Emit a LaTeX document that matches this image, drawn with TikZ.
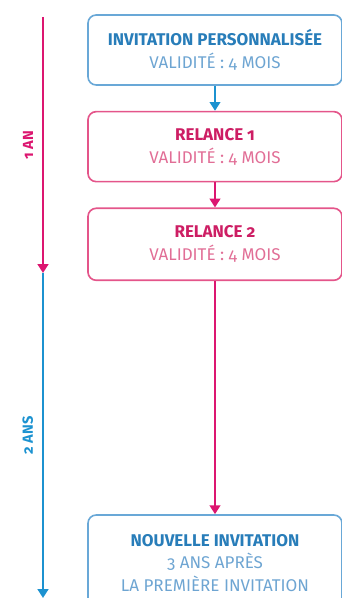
\documentclass[tikz,border=0pt]{standalone}
\usepackage{fontspec}
\setmainfont{Fira Sans}[Numbers=OldStyle]
\usepackage{tikz}
\usetikzlibrary{arrows.meta, positioning}
\definecolor{invblue}{RGB}{28,146,208}
\definecolor{invblueframe}{RGB}{105,168,215}
\definecolor{invbluetext}{RGB}{40,125,185}
\definecolor{invbluelight}{RGB}{110,165,210}
\definecolor{relmagenta}{RGB}{220,22,112}
\definecolor{relmagentaframe}{RGB}{228,85,138}
\definecolor{relmagentatext}{RGB}{205,30,100}
\definecolor{relmagentalight}{RGB}{225,110,150}

\begin{document}
\begin{tikzpicture}[
  x=0.03cm, y=-0.03cm,
  sbox/.style={rectangle, rounded corners=7pt, draw, line width=1.4pt,
               minimum width=7.62cm, minimum height=2.1cm, inner sep=1pt,
               font=\fontsize{14.5}{19.5}\selectfont, align=center},
  tlabel/.style={left=4pt, rotate=90, anchor=south,
                 font=\fontsize{12.5}{14}\selectfont\bfseries},
  arr/.style={-{Triangle[width=9pt, length=7.5pt]}, line width=2pt}
]
\useasboundingbox (0,0) rectangle (342,598);

%% ── Boxes ───────────────────────────────────────────────────────────────
\node[sbox, draw=invblueframe, text=invbluelight] (invit) at (215, 50)
  {\textcolor{invbluetext}{\bfseries INVITATION PERSONNALISÉE}\\VALIDITÉ : 4 MOIS};
\node[sbox, draw=relmagentaframe, text=relmagentalight, below=0.75cm of invit] (rel1)
  {\textcolor{relmagentatext}{\bfseries RELANCE 1}\\VALIDITÉ : 4 MOIS};
\node[sbox, draw=relmagentaframe, text=relmagentalight, minimum height=2.16cm,
      below=0.75cm of rel1] (rel2)
  {\textcolor{relmagentatext}{\bfseries RELANCE 2}\\VALIDITÉ : 4 MOIS};
\node[sbox, draw=invblueframe, text=invbluelight, minimum height=2.88cm] (newinv) at (215, 563)
  {\textcolor{invbluetext}{\bfseries NOUVELLE INVITATION}\\3 ANS APRÈS\\LA PREMIÈRE INVITATION};

%% ── Arrows between boxes ────────────────────────────────────────────────
\draw[arr, color=invblue] (invit.south) -- (rel1.north);
\draw[arr, color=relmagenta] (rel1.south) -- (rel2.north);
\draw[arr, color=relmagenta] (rel2.south) -- (newinv.north);

%% ── Time line ───────────────────────────────────────────────────────────
\coordinate (tstart) at (43, 17);
\coordinate (tyear)  at (43, 273);
\coordinate (tend)   at (43, 598);

\draw[arr, color=relmagenta] (tstart) -- node[tlabel]{1 AN} (tyear);
\draw[arr, color=invblue] (tyear) -- node[tlabel]{2 ANS} (tend);

\end{tikzpicture}
\end{document}
